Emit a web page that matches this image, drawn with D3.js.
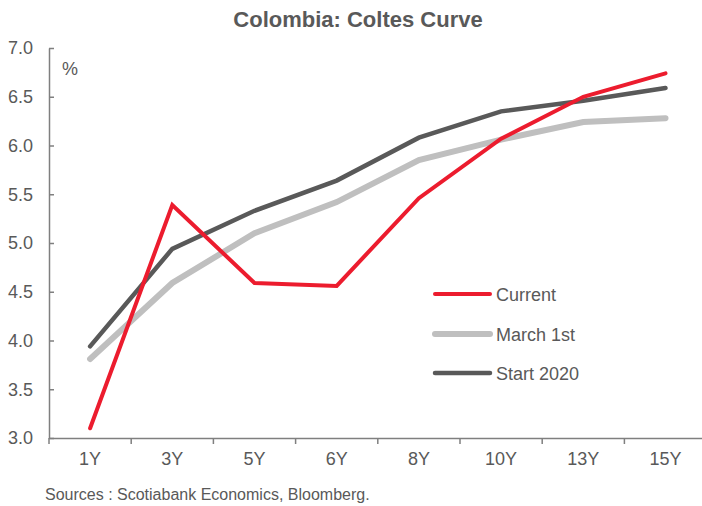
<!DOCTYPE html>
<html>
<head>
<meta charset="utf-8">
<script src="https://cdn.jsdelivr.net/npm/d3@7"></script>
<style>
  html, body { margin: 0; padding: 0; background: #fff; }
  svg { display: block; font-family: "Liberation Sans", Arial, sans-serif; }
</style>
</head>
<body>
<svg id="chart" width="702" height="506"></svg>
<script>
const categories = ["1Y", "3Y", "5Y", "6Y", "8Y", "10Y", "13Y", "15Y"];
const current   = [3.10, 5.39, 4.59, 4.56, 5.46, 6.07, 6.50, 6.74];
const march1st  = [3.81, 4.59, 5.10, 5.42, 5.85, 6.06, 6.24, 6.28];
const start2020 = [3.94, 4.94, 5.33, 5.64, 6.08, 6.35, 6.46, 6.59];
const yTicks = [3.0, 3.5, 4.0, 4.5, 5.0, 5.5, 6.0, 6.5, 7.0];
const seriesNames = ["Current", "March 1st", "Start 2020"];

(function () {
const series = [
  { name: seriesNames[1], values: march1st,  color: "#BFBFBF", width: 6 },
  { name: seriesNames[2], values: start2020, color: "#595959", width: 4.5 },
  { name: seriesNames[0], values: current,   color: "#EC1C2E", width: 4 }
];

const textColor = "#595959";
const axisColor = "#7F7F7F";
const svg = d3.select("#chart");

const mLeft = 49, mRight = 706.6, mTop = 48, mBottom = 438;

const x = d3.scaleBand().domain(categories).range([mLeft, mRight]).padding(0);
const y = d3.scaleLinear().domain([3, 7]).range([mBottom, mTop]);

// Title
svg.append("text")
  .attr("x", 358).attr("y", 27)
  .attr("text-anchor", "middle")
  .attr("font-size", 22).attr("font-weight", "bold")
  .attr("fill", textColor)
  .text("Colombia: Coltes Curve");

// Y axis
const yAxis = svg.append("g")
  .attr("transform", `translate(${mLeft},0)`)
  .call(d3.axisLeft(y).tickValues(yTicks).tickFormat(d3.format(".1f"))
        .tickSizeInner(-5).tickSizeOuter(0).tickPadding(16));
yAxis.select(".domain").attr("stroke", axisColor).attr("stroke-width", 1.5);
yAxis.selectAll(".tick line").attr("stroke", axisColor).attr("stroke-width", 1.5);
yAxis.selectAll(".tick text").attr("fill", textColor).attr("font-size", 18)
  .attr("font-family", "Liberation Sans, Arial, sans-serif");

// % label
svg.append("text").attr("x", 62).attr("y", 75)
  .attr("font-size", 18).attr("fill", textColor).text("%");

// X axis
const xAxis = svg.append("g")
  .attr("transform", `translate(0,${mBottom})`)
  .call(d3.axisBottom(x).tickSize(0).tickPadding(14));
xAxis.select(".domain").attr("stroke", axisColor).attr("stroke-width", 1.5);
xAxis.selectAll(".tick text").attr("fill", textColor).attr("font-size", 18)
  .attr("font-family", "Liberation Sans, Arial, sans-serif")
  .attr("dy", "0.71em");
const boundaries = categories.map(c => x(c)).concat([x(categories[categories.length - 1]) + x.bandwidth()]);
xAxis.selectAll("line.bt").data(boundaries).enter().append("line")
  .attr("class", "bt")
  .attr("x1", d => d).attr("x2", d => d)
  .attr("y1", 0).attr("y2", 6)
  .attr("stroke", axisColor).attr("stroke-width", 1.5);

// Lines
const line = d3.line()
  .x((d, i) => x(categories[i]) + x.bandwidth() / 2)
  .y(d => y(d));

svg.append("g").selectAll("path").data(series).enter().append("path")
  .attr("d", d => line(d.values))
  .attr("fill", "none")
  .attr("stroke", d => d.color)
  .attr("stroke-width", d => d.width)
  .attr("stroke-linecap", "round")
  .attr("stroke-linejoin", "miter");

// Legend
const legendOrder = [series[2], series[0], series[1]];
const lg = svg.append("g");
const legendYs = [294, 334, 373];
legendOrder.forEach((s, i) => {
  lg.append("line")
    .attr("x1", 435).attr("x2", 490)
    .attr("y1", legendYs[i]).attr("y2", legendYs[i])
    .attr("stroke", s.color).attr("stroke-width", s.width)
    .attr("stroke-linecap", "round");
  lg.append("text")
    .attr("x", 496).attr("y", legendYs[i] + 7)
    .attr("font-size", 18).attr("fill", textColor)
    .text(s.name);
});

// Source
svg.append("text").attr("x", 45).attr("y", 500)
  .attr("font-size", 16).attr("fill", textColor)
  .attr("xml:space", "preserve")
  .text("Sources : Scotiabank Economics, Bloomberg.");
})();
</script>
</body>
</html>
